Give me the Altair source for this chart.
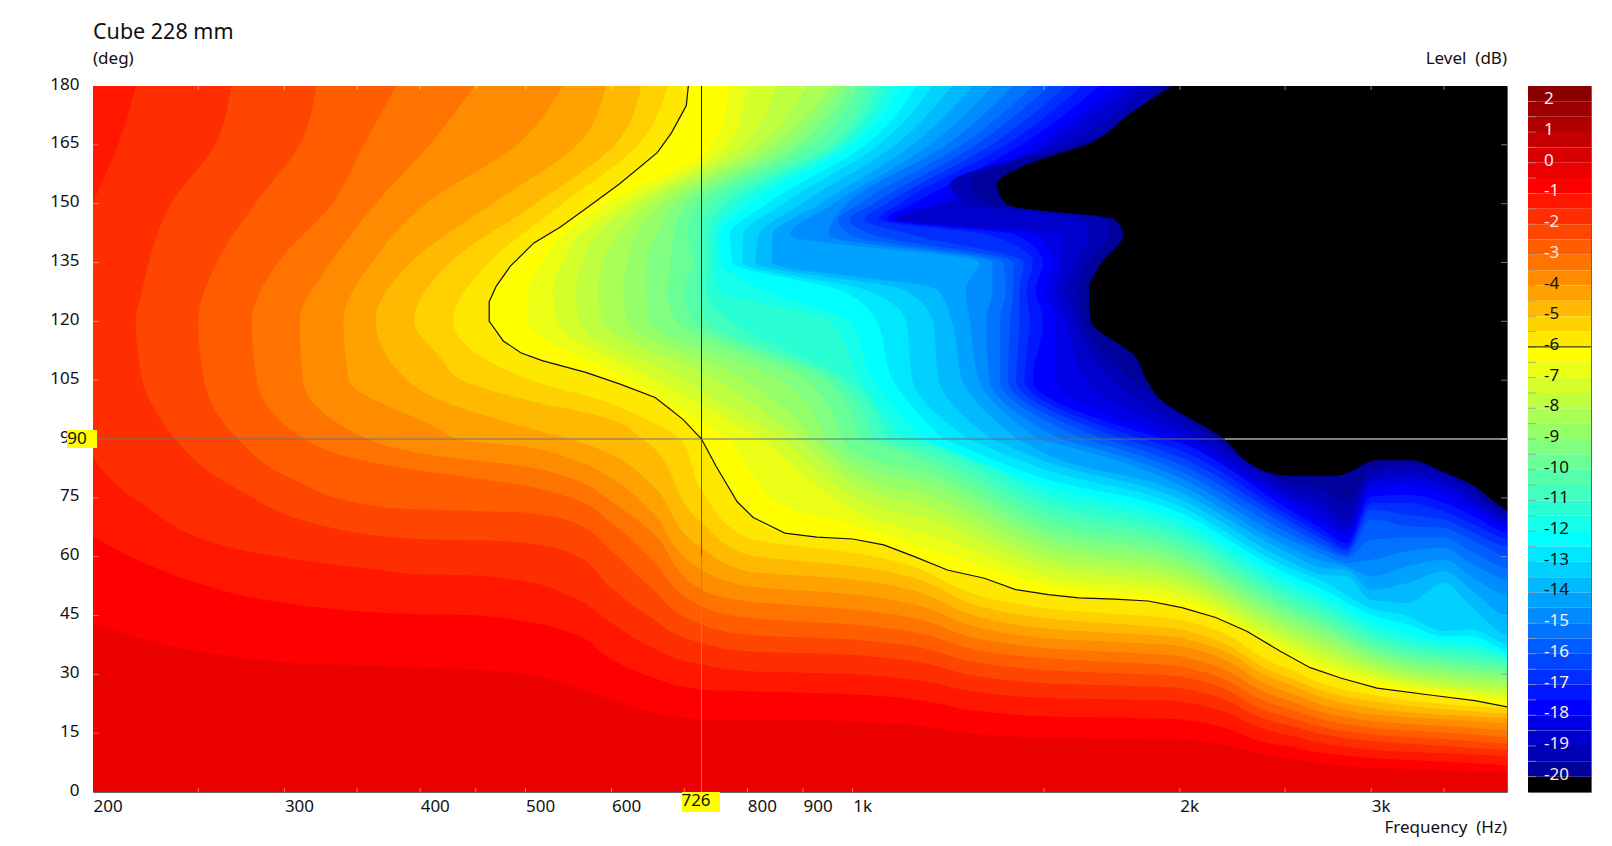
import altair as alt
import pandas as pd

FONT = "Noto Sans"
FS = 17
W, H = 1414, 706
HZ_END = 4300

# ---- warm isolines: [angle deg, frequency Hz] read along each level boundary
iso_0_5 = [[4.5,4300],[5.3,3700],[6.2,3000],[8.7,2500],[13.4,2000],[13.8,1488],[18,1000],[18.4,800],[18.5,726],[20.6,650],[23.6,600],[27,550],[30,500],[31.2,450],[31.7,405],[33,300],[43,200],[55,170],[180,170]]
iso_1_0 = [[6,4300],[7.4,3700],[8.7,3000],[11.7,2500],[18.5,2000],[19.3,1488],[24.9,1000],[25.7,800],[26.1,726],[29.5,650],[33.8,600],[40.6,550],[43.5,500],[45,450],[45.3,405],[46.6,336],[54.2,244],[56.8,230],[65.2,200],[75,180],[180,180]]
iso_1_5 = [[8.5,4300],[9.6,3700],[10.8,3000],[14.7,2500],[23.1,2000],[24,1488],[30,1000],[30.8,800],[32.5,726],[37.2,650],[43.1,600],[49.9,550],[53.7,500],[55.2,450],[55.4,405],[56.8,362],[61.9,272],[73.8,221],[85.6,200],[105,191],[120,187],[135,193],[150,200],[165,211],[180,219]]
iso_2_0 = [[10,4300],[11.3,3700],[13,3000],[17.2,2500],[26.5,2000],[27.8,1488],[35,1000],[35.9,800],[38,726],[44.8,650],[52,600],[61,550],[63.5,500],[64.2,450],[64.4,405],[67,337],[77.2,272],[90,238],[95,231],[105,222],[120,219],[128,222],[135,225],[150,236],[165,259],[180,268]]
iso_2_5 = [[11.5,4300],[13,3700],[14.7,3000],[19.3,2500],[29.5,2000],[31.2,1488],[38.9,1000],[40.1,800],[42.7,726],[52.5,650],[61.4,600],[69,550],[71.2,500],[71.6,450],[72,405],[73,362],[80,304],[90,272],[105,253],[120,250],[135,260],[150,282],[165,310],[180,321]]
iso_3_0 = [[13,4300],[14.7,3700],[16.4,3000],[21.5,2500],[32,2000],[34.2,1488],[42.7,1000],[44.4,800],[47.4,726],[60,650],[68.6,600],[75,550],[78,500],[80,450],[82,400],[84,362],[90,313],[105,283],[120,280],[135,296],[150,332],[165,355],[180,380]]
iso_3_5 = [[15,4300],[16.4,3700],[18.1,3000],[23.6,2500],[34.6,2000],[36.8,1488],[46.5,1000],[48.6,800],[51.6,726],[66.9,650],[74,600],[80,550],[83,500],[85.6,417],[90,358],[105,312],[120,310],[135,331],[150,364],[165,408],[180,449]]
iso_4_0 = [[17,4300],[18.1,3700],[19.8,3000],[25.7,2500],[37.2,2000],[39.3,1488],[50.4,1000],[52.5,800],[56.7,726],[72,650],[80,600],[85,550],[88,500],[90,432],[92.5,417],[105,344],[120,340],[135,361],[150,405],[165,491],[180,541]]
iso_4_5 = [[18.5,4300],[19.3,3700],[21.5,3000],[27.8,2500],[39.3,2000],[41.8,1488],[54.2,1000],[56.3,800],[62.3,726],[79,650],[86,600],[90,550],[93,500],[100,417],[105,389],[120,364],[135,392],[150,466],[165,558],[180,593]]
iso_5_0 = [[19.5,4300],[20.6,3700],[23.2,3000],[29.5,2500],[41.4,2000],[44.4,1488],[57.6,1000],[60.5,800],[68.7,726],[90,641],[95,600],[100,500],[105,437],[111,417],[120,395],[135,426],[150,511],[165,604],[180,639]]
iso_5_5 = [[20.8,4300],[21.9,3700],[24.8,3000],[31.7,2500],[44,2000],[47,1488],[61,1000],[64.8,800],[77,726],[90,694],[96,635],[99,600],[105.5,500],[120,429],[135,463],[150,541],[165,635],[180,676]]

# the -6 dB contour drawn in black
contour_deg = [20.5,21.7,23.3,24.6,26.5,29,31.7,36,41,44.5,47,48.7,49.2,49.5,50.3,51.6,54.5,56.6,60,63,64.5,65,66,70,74,83,90,95,100.6,104,107,110,112,115,120,125,129,134,140,144,149,155,163,168,175,180]
contour_hz = [4300,4000,3738,3426,3038,2816,2636,2470,2305,2158,2009,1870,1743,1615,1514,1412,1322,1222,1140,1068,1000,927,866,810,783,749,726,698,658,611,568,518,495,477,463,463,470,484,509,538,570,610,661,681,703,706]

# ---- cool levels: crossing frequency per level on rows of constant angle
cool_levels = [-6.5,-7,-7.5,-8,-8.5,-9,-9.5,-10,-10.5,-11,-11.5,-12,-12.5,-13,-13.5,-14,-14.5,-15,-15.5,-16,-16.5,-17,-17.5,-18,-18.5,-19,-19.5,-20]
hz_at_90  = [772,828,862,893,919,946,979,1016,1045,1075,1113,1160,1212,1277,1342,1418,1481,1550,1630,1699,1774,1849,1932,2000,2071,2130,2168,2200]
hz_at_105 = [624,660,699,749,798,858,908,946,968,988,1015,1045,1089,1135,1200,1262,1307,1336,1366,1390,1414,1439,1465,1539,1640,1735,1810,1864]
hz_at_120 = [503,534,560,589,620,650,688,714,735,771,953,994,1052,1120,1185,1234,1282,1327,1366,1396,1424,1455,1497,1539,1572,1605,1627,1657]
hz_at_128 = [503,530,556,583,615,646,675,699,722,733,752,827,973,1028,1115,1197,1271,1345,1384,1405,1424,1446,1474,1506,1539,1572,1612,1650]
hz_at_135 = [519,541,564,589,620,646,680,714,724,735,744,757,775,792,814,843,1307,1345,1375,1405,1437,1465,1497,1530,1559,1605,1650,1695]
hz_at_142 = [541,560,580,606,631,660,684,705,723,735,744,754,771,793,820,844,876,950,994,1045,1135,1336,1414,1474,1559,1650,1724,1774]
hz_at_150 = [593,615,631,650,669,687,705,724,744,763,783,805,834,864,898,934,961,988,1015,1045,1075,1105,1137,1178,1220,1271,1327,1384]
hz_at_165 = [744,769,793,820,845,869,894,920,953,968,980,1000,1028,1057,1095,1135,1178,1220,1260,1299,1342,1384,1430,1474,1516,1559,1601,1640]
hz_at_180 = [771,800,850,906,955,973,994,1015,1035,1057,1080,1108,1145,1185,1234,1290,1345,1405,1465,1516,1572,1627,1687,1746,1810,1864,1914,1969]
rows = [(90,hz_at_90),(105,hz_at_105),(120,hz_at_120),(128,hz_at_128),(135,hz_at_135),(142,hz_at_142),(150,hz_at_150),(165,hz_at_165),(180,hz_at_180)]

# extra points of the darkest levels, [deg, Hz]
extra_15_5 = [[146,970]]
extra_16_0 = [[146,994]]
extra_16_5 = [[146,1026]]
extra_17_0 = [[146,1057]]
extra_17_5 = [[146,1075]]
extra_18_0 = [[146,1089]]
extra_18_5 = [[146,1095]]
extra_19_0 = [[146,1615],[155,1230]]
extra_19_5 = [[146,1705],[155,1285],[160,1387]]
extra_20_0 = [[92,2143],[100,1922],[111,1820],[126,1650],[146,1743],[149,1417],[155,1357],[160,1449],[173,1800]]

# ---- cool levels below 90 deg: [Hz, deg]
low_06_5 = [[772,90],[804,82.2],[844,74.5],[1000,68.2],[1205,61],[1488,53.1],[2000,48.8],[2500,35.9],[2710,31.6],[3000,28.2],[3240,26.5],[3500,25.4],[3706,24.6],[4000,23],[4300,22]]
low_07_0 = [[828,90],[1000,72],[1205,64.8],[1488,55.4],[2000,50.7],[2500,37.5],[2710,33.3],[3000,29.5],[3240,27.4],[3500,26.3],[3706,25.4],[4000,24.2],[4300,23]]
low_07_5 = [[862,90],[1000,75.4],[1205,68.6],[1488,57.8],[2000,52.5],[2500,39.2],[2710,35],[3000,30.8],[3240,28.4],[3500,27.1],[3706,26.3],[4000,25.4],[4300,24]]
low_08_0 = [[893,90],[1000,78.8],[1205,71.6],[1488,60.1],[2000,54.4],[2500,40.8],[2710,36.7],[3000,32],[3240,29.5],[3500,28.2],[3706,27.4],[4000,26.7],[4300,25.5]]
low_08_5 = [[919,90],[1000,81.8],[1205,74.5],[1488,62.5],[2000,56.3],[2500,42.5],[2710,38.4],[3000,33.3],[3240,30.8],[3500,29.5],[3706,28.7],[4000,28],[4300,26.8]]
low_09_0 = [[946,90],[1000,84.3],[1205,77.5],[1488,64.8],[2000,58.1],[2500,44.1],[2710,40.1],[3000,34.6],[3240,32],[3500,30.8],[3706,30],[4000,29.2],[4300,28]]
low_09_5 = [[979,90],[1000,87.3],[1205,80],[1488,67.2],[2000,60],[2500,45.8],[2710,41.8],[3000,35.9],[3240,33.3],[3500,32],[3706,31.2],[4000,30.3],[4300,29]]
low_10_0 = [[1016,90],[1205,82.6],[1488,69.5],[2000,61.9],[2500,47.5],[2710,43.1],[3000,37.3],[3240,34.6],[3500,33.3],[3706,32.5],[4000,31.4],[4300,30]]
low_10_5 = [[1045,90],[1205,84.8],[1488,71.8],[2000,63.8],[2500,49.1],[2710,44.8],[3000,38.8],[3240,35.9],[3500,34.6],[3706,33.9],[4000,32.5],[4300,31]]
low_11_0 = [[1075,90],[1205,86.9],[1488,74.1],[2000,65.6],[2500,50.8],[2710,46.5],[3000,40.1],[3240,37.2],[3500,35.9],[3706,35.4],[4000,33.5],[4300,32]]
low_11_5 = [[1113,90],[1205,89],[1488,76.5],[2000,67.5],[2500,52.5],[2710,48.2],[3000,41.8],[3240,38.8],[3500,37.2],[3706,36.7],[4000,34.4],[4300,33]]
low_12_0 = [[1160,90],[1488,78.4],[2000,69.4],[2500,54.2],[2710,49.9],[3000,43.5],[3240,40.5],[3500,38.4],[3706,38],[4000,35.2],[4300,34]]
low_12_5 = [[1212,90],[1488,80.3],[2000,71.2],[2500,55.9],[2710,51.6],[3000,45.2],[3240,42.7],[3500,39.7],[3706,39.7],[4000,36],[4300,35]]
low_13_0 = [[1277,90],[1488,82.6],[2000,72.9],[2500,57.6],[2710,53.7],[3000,46.9],[3240,44.8],[3500,41],[3706,41.4],[4000,37.5],[4300,36]]
low_13_5 = [[1342,90],[1488,84.8],[2000,74.7],[2500,59.4],[2710,55.4],[2847,55],[3000,49],[3240,48.2],[3500,53.3],[3706,47.4],[4000,40],[4300,39]]
low_14_0 = [[1418,90],[1488,86.9],[2000,76.5],[2500,61.3],[2710,57.1],[2847,56.7],[3000,51.6],[3240,53.3],[3500,56.3],[3706,51.6],[4000,44.5],[4300,43]]
low_14_5 = [[1481,90],[2000,78.3],[2500,63],[2710,58.8],[2847,57.5],[3000,55],[3240,57.5],[3500,59.2],[3706,55],[4000,50],[4300,49]]
low_15_0 = [[1550,90],[2000,80.1],[2500,64.8],[2710,60.5],[2847,58.4],[3000,59.2],[3240,61.4],[3500,62.2],[3706,58.4],[4000,54],[4300,53]]
low_15_5 = [[1630,90],[2000,81.9],[2500,66.5],[2710,61.8],[2847,59.7],[3000,64.4],[3240,64.8],[3500,64.8],[3706,61.4],[4000,57],[4300,56]]
low_16_0 = [[1699,90],[2000,83.6],[2500,68.2],[2710,63],[2847,60.5],[3000,69.5],[3240,67.8],[3500,67.3],[3706,64.4],[4000,60],[4300,59]]
low_16_5 = [[1774,90],[2000,85.4],[2500,69.7],[2710,64.4],[2847,61.4],[3000,72],[3240,70.7],[3500,69.5],[3706,66.5],[4000,62.5],[4300,61.5]]
low_17_0 = [[1849,90],[2000,87.2],[2500,71.1],[2710,65.6],[2847,62.2],[3000,73.7],[3240,73.7],[3500,71.6],[3706,68.6],[4000,64.5],[4300,63.5]]
low_17_5 = [[1932,90],[2000,89],[2500,72.7],[2710,66.9],[2847,63.5],[3000,75.4],[3240,75.8],[3500,73.7],[3706,70.7],[4000,66],[4300,65]]
low_18_0 = [[2000,90],[2500,74.1],[2710,68.6],[2847,65.2],[3000,77.1],[3240,78.4],[3500,75.8],[3706,72.4],[4000,67.5],[4300,66.5]]
low_18_5 = [[2071,90],[2500,75.8],[2710,71.1],[2847,66.9],[3000,78.8],[3240,80.1],[3500,78],[3706,74.1],[4000,69],[4300,68]]
low_19_0 = [[2130,90],[2500,77.5],[2710,73.7],[2847,69.5],[3000,80.5],[3240,81.8],[3500,79.6],[3706,75.8],[4000,70],[4300,69]]
low_19_5 = [[2168,90],[2500,79.2],[2710,77.1],[2847,73.7],[3000,82.2],[3240,83.5],[3500,81.3],[3706,77.1],[4000,71],[4300,70]]
low_20_0 = [[2200,90],[2310,84],[2500,80.7],[2710,80.5],[2800,80.7],[3040,84.6],[3270,84.6],[3500,81.5],[3706,78.5],[4000,71.8],[4300,69]]

warm_isos = [(-0.5,iso_0_5),(-1,iso_1_0),(-1.5,iso_1_5),(-2,iso_2_0),(-2.5,iso_2_5),(-3,iso_3_0),(-3.5,iso_3_5),(-4,iso_4_0),(-4.5,iso_4_5),(-5,iso_5_0),(-5.5,iso_5_5),(-6,list(zip(contour_deg,contour_hz)))]
low_parts = [low_06_5,low_07_0,low_07_5,low_08_0,low_08_5,low_09_0,low_09_5,low_10_0,low_10_5,low_11_0,low_11_5,low_12_0,low_12_5,low_13_0,low_13_5,low_14_0,low_14_5,low_15_0,low_15_5,low_16_0,low_16_5,low_17_0,low_17_5,low_18_0,low_18_5,low_19_0,low_19_5,low_20_0]
extras = {-15.5:extra_15_5,-16:extra_16_0,-16.5:extra_16_5,-17:extra_17_0,-17.5:extra_17_5,-18:extra_18_0,-18.5:extra_18_5,-19:extra_19_0,-19.5:extra_19_5,-20:extra_20_0}

# axis and tick values
x_labels = [200,300,400,500,600,700,800,900,1000,2000,3000]
x_ticks = [250,300,350,400,450,500,600,700,800,900,1000,1500,2000,2500,3000,3500]
y_labels = [0,15,30,45,60,75,90,105,120,135,150,165,180]
cursor_hz, cursor_deg = 726, 90
bar_labels = list(range(2,-21,-1))
bar_edges = [2.5-0.5*i for i in range(47)]


def band_colour(mid):
    """Colour of the 0.5 dB band centred on mid (jet-like map of the reference)."""
    if mid < -20:
        return "#000000"
    if mid >= -0.75:
        r, g, b = 255-(mid+0.75)/3.25*127, 0, 0
    elif mid >= -6.25:
        r, g, b = 255, (-0.75-mid)/5.5*255, 0
    elif mid >= -12.25:
        t = (-6.25-mid)/6
        r, g, b = 255*(1-t), 255, 255*t
    elif mid >= -17.75:
        r, g, b = 0, 255*(1-(-12.25-mid)/5.5), 255
    else:
        r, g, b = 0, 0, 255-(-17.75-mid)/2.25*112
    return "#%02x%02x%02x" % (round(r), round(g), round(b))


X = alt.X("hz:Q", scale=alt.Scale(type="log", domain=[200,4000], nice=False), title=None,
          axis=alt.Axis(values=x_labels, labelExpr="datum.value>=1000 ? (datum.value/1000)+'k' : datum.value",
                        ticks=False, grid=False, domain=False, labelAlign="left", labelPadding=6,
                        labelFont=FONT, labelFontSize=FS, labelColor="#111", labelOverlap=False, labelFlush=False))
Y = alt.Y("deg:Q", scale=alt.Scale(domain=[0,180], nice=False), title=None,
          axis=alt.Axis(values=y_labels, ticks=False, grid=False, domain=False, labelPadding=14, labelOffset=-2,
                        minExtent=84, maxExtent=84, labelFont=FONT, labelFontSize=FS, labelColor="#111"))


def h_area(points, colour):
    df = pd.DataFrame(points, columns=["deg","hz"]).sort_values("deg")
    df["hz2"] = HZ_END
    return alt.Chart(df).mark_area(orient="horizontal", clip=True, color=colour, interpolate="monotone").encode(
        x=X, x2="hz2:Q", y=Y)


def v_area(points, colour):
    df = pd.DataFrame(points, columns=["hz","deg"])
    df["deg2"] = 90.4
    return alt.Chart(df).mark_area(orient="vertical", clip=True, color=colour, interpolate="monotone").encode(
        x=X, y=Y, y2="deg2:Q")


base_df = pd.DataFrame({"deg":[0,180],"hz":[200,200],"hz2":[HZ_END,HZ_END]})
layers = [alt.Chart(base_df).mark_area(orient="horizontal", clip=True, color=band_colour(-0.25)).encode(x=X, x2="hz2:Q", y=Y)]
for level, pts in warm_isos:
    layers.append(h_area(pts, band_colour(level-0.25)))
for i, level in enumerate(cool_levels):
    pts = [[d, r[i]] for d, r in rows] + extras.get(level, [])
    c = band_colour(level-0.25)
    layers.append(h_area(pts, c))
    layers.append(v_area(low_parts[i], c))

# -6 dB contour
contour_df = pd.DataFrame({"deg":contour_deg,"hz":contour_hz,"i":range(len(contour_hz))})
layers.append(alt.Chart(contour_df).mark_line(clip=True, color="#111", strokeWidth=1.2).encode(x=X, y=Y, order="i:Q"))

# faint inside ticks
tick_df = pd.DataFrame({"hz":x_ticks})
layers.append(alt.Chart(tick_df).mark_rule(color="#ffffff", opacity=0.45).encode(x=X, y=alt.value(H), y2=alt.value(H-4)))
layers.append(alt.Chart(tick_df).mark_rule(color="#ffffff", opacity=0.45).encode(x=X, y=alt.value(0), y2=alt.value(4)))
ytick_df = pd.DataFrame({"deg":y_labels[1:-1]})
layers.append(alt.Chart(ytick_df).mark_rule(color="#ffffff", opacity=0.35).encode(y=Y, x=alt.value(0), x2=alt.value(6)))
layers.append(alt.Chart(ytick_df).mark_rule(color="#999999", opacity=0.8).encode(y=Y, x=alt.value(W-6), x2=alt.value(W)))

# cursor cross
def hseg(a, b, colour):
    return alt.Chart(pd.DataFrame({"hz":[a,b],"deg":[cursor_deg]*2})).mark_line(color=colour, strokeWidth=1, clip=True).encode(x=X, y=Y)
def vseg(a, b, colour):
    return alt.Chart(pd.DataFrame({"hz":[cursor_hz]*2,"deg":[a,b]})).mark_line(color=colour, strokeWidth=1, clip=True).encode(x=X, y=Y)
layers += [hseg(200,cursor_hz,"#6f7378"), hseg(cursor_hz,2200,"#5f6f80"), hseg(2200,4000,"#ffffff"),
           vseg(90,180,"#1a1a30"), vseg(60,90,"#55557a"), vseg(0,60,"#8c8c8c")]

# yellow cursor flags and texts
one = pd.DataFrame({"a":[0]})
def flag(x0, x1, y0, y1, txt, tx, ty):
    r = alt.Chart(one).mark_rect(color="#ffff00").encode(x=alt.value(x0), x2=alt.value(x1), y=alt.value(y0), y2=alt.value(y1))
    t = alt.Chart(one).mark_text(text=txt, font=FONT, fontSize=FS, color="#111", align="center", baseline="middle").encode(x=alt.value(tx), y=alt.value(ty))
    return [r, t]
layers += flag(-26, 4, 344, 362, "90", -16, 353)
layers += flag(589, 627, 706, 726, "726", 603, 715)

def label(txt, x, y, size, align="left"):
    return alt.Chart(one).mark_text(text=txt, font=FONT, fontSize=size, color="#111", align=align, baseline="middle").encode(x=alt.value(x), y=alt.value(y))
layers += [label("Cube 228 mm", 0, -53, 21.5), label("(deg)", 0, -27, FS),
           label("Level\u00a0\u00a0(dB)", W, -27, FS, "right"), label("Frequency\u00a0\u00a0(Hz)", W, 742, FS, "right")]

main = alt.layer(*layers).properties(width=W, height=H)

# ---- colour bar
BY = alt.Y("top:Q", scale=alt.Scale(domain=[-20.5,2.5], nice=False), axis=None)
bands = pd.DataFrame({"top":bar_edges[:-1],"bot":bar_edges[1:]})
bands["c"] = [band_colour((a+b)/2) for a, b in zip(bar_edges[:-1], bar_edges[1:])]
bar = alt.Chart(bands).mark_rect().encode(y=BY, y2="bot:Q", color=alt.Color("c:N", scale=None),
                                          x=alt.value(0), x2=alt.value(63))
bar_ticks = alt.Chart(pd.DataFrame({"top":bar_edges[1:-1]})).mark_rule(color="#999999", opacity=0.75).encode(y=BY, x=alt.value(0), x2=alt.value(8))
bar_line = alt.Chart(pd.DataFrame({"top":[-6]})).mark_rule(color="#111", strokeWidth=1).encode(y=BY, x=alt.value(0), x2=alt.value(63))
lab_df = pd.DataFrame({"top":bar_labels})
lab_df["t"] = [str(v) for v in bar_labels]
lab_df["col"] = ["#ffe8e0" if (v >= -3 or v <= -15) else "#111111" for v in bar_labels]
bar_text = alt.Chart(lab_df).mark_text(font=FONT, fontSize=FS, align="left", baseline="middle", dy=-2).encode(
    y=BY, x=alt.value(16), text="t:N", color=alt.Color("col:N", scale=None))
colourbar = alt.layer(bar, bar_ticks, bar_line, bar_text).properties(width=63, height=H)

chart = alt.hconcat(main, colourbar, spacing=19).properties(
    padding={"left":0,"top":13,"right":0,"bottom":0}, background="#ffffff"
).configure_view(stroke="#666666", strokeWidth=1)

chart.save("out.html", embed_options={"renderer": "svg", "actions": False})
